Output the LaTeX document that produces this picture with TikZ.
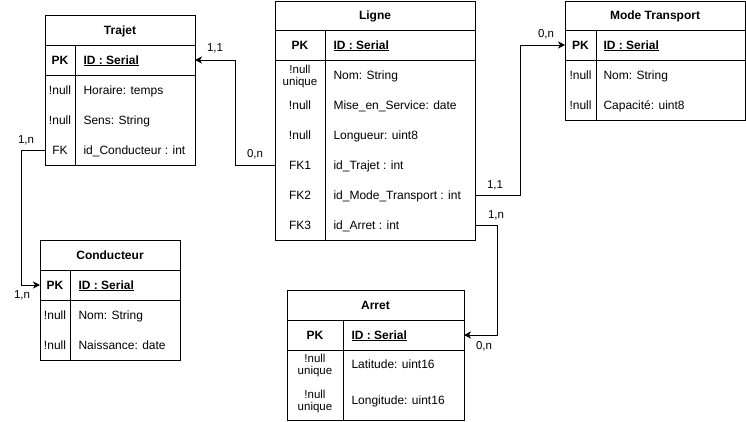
\documentclass[tikz,border=0pt]{standalone}
\usepackage{fontspec}
\setmainfont{Liberation Sans}
\usetikzlibrary{arrows.meta}
\begin{document}
\begin{tikzpicture}[x=1pt,y=-1pt,
  line width=1pt,
  tbl/.style={draw, line width=1pt, anchor=north west, inner sep=0pt, outer sep=0pt},
  rowbox/.style={anchor=north west, inner sep=0pt, outer sep=0pt},
  hdr/.style={font=\fontsize{12}{14}\selectfont\bfseries, inner sep=0pt, anchor=mid, yshift=-1.5pt},
  keyt/.style={font=\fontsize{11.5}{11.5}\selectfont, inner sep=0pt, align=center, yshift=-0.5pt},
  keys/.style={font=\fontsize{12}{14}\selectfont, inner sep=0pt, anchor=mid, yshift=-1.5pt},
  pkt/.style={font=\fontsize{12}{14}\selectfont\bfseries, inner sep=0pt, anchor=mid, yshift=-1.5pt},
  fld/.style={font=\fontsize{12}{14}\selectfont, inner sep=0pt, anchor=mid west, yshift=-1.5pt},
  pkf/.style={font=\fontsize{12}{14}\selectfont\bfseries, inner sep=0pt, anchor=mid west, yshift=-1.5pt},
  card/.style={font=\fontsize{11.5}{13}\selectfont, inner sep=0pt, anchor=mid},
  conn/.style={line width=1pt, -{Stealth[length=7pt,width=7pt,inset=2pt]}},
]
\useasboundingbox[fill=white] (0,0) rectangle (746,421);

% ---------- Trajet ----------
\node[tbl, minimum width=150pt, minimum height=150pt] (trajet) at (45,15) {};
\draw (45,45) -- (195,45);
\draw (45,75) -- (195,75);
\draw (75,45) -- (75,165);
\node[rowbox, minimum width=150pt, minimum height=30pt] (tPK) at (45,45) {};
\node[rowbox, minimum width=150pt, minimum height=30pt] (tFK) at (45,135) {};
\node[hdr] (tT) at (120,30) {Trajet};
\node[pkt] (tk1) at (60,60) {PK};
\node[pkf] (tf1) at (83,60) {\underline{ID : Serial}};
\node[keys] (tk2) at (60,90) {!null};
\node[fld] (tf2) at (83,90) {Horaire: temps};
\node[keys] (tk3) at (60,120) {!null};
\node[fld] (tf3) at (83,120) {Sens: String};
\node[keys] (tk4) at (60,150) {FK};
\node[fld] (tf4) at (83,150) {id\_Conducteur : int};

% ---------- Conducteur ----------
\node[tbl, minimum width=140pt, minimum height=120pt] (cond) at (40,240) {};
\draw (40,270) -- (180,270);
\draw (40,300) -- (180,300);
\draw (70,270) -- (70,360);
\node[rowbox, minimum width=140pt, minimum height=30pt] (cPK) at (40,270) {};
\node[hdr] (cT) at (110,255) {Conducteur};
\node[pkt] (ck1) at (55,285) {PK};
\node[pkf] (cf1) at (78,285) {\underline{ID : Serial}};
\node[keys] (ck2) at (55,315) {!null};
\node[fld] (cf2) at (78,315) {Nom: String};
\node[keys] (ck3) at (55,345) {!null};
\node[fld] (cf3) at (78,345) {Naissance: date};

% ---------- Ligne ----------
\node[tbl, minimum width=200pt, minimum height=239pt] (ligne) at (275,1) {};
\draw (275,30) -- (475,30);
\draw (275,60) -- (475,60);
\draw (325,30) -- (325,240);
\node[rowbox, minimum width=200pt, minimum height=30pt] (lFK1) at (275,150) {};
\node[rowbox, minimum width=200pt, minimum height=30pt] (lFK2) at (275,180) {};
\node[rowbox, minimum width=200pt, minimum height=30pt] (lFK3) at (275,210) {};
\node[hdr] (lT) at (375,15.5) {Ligne};
\node[pkt] (lk1) at (300,45) {PK};
\node[pkf] (lf1) at (333,45) {\underline{ID : Serial}};
\node[keyt] (lk2) at (300,76) {!null\\unique};
\node[fld] (lf2) at (333,75) {Nom: String};
\node[keys] (lk3) at (300,105) {!null};
\node[fld] (lf3) at (333,105) {Mise\_en\_Service: date};
\node[keys] (lk4) at (300,135) {!null};
\node[fld] (lf4) at (333,135) {Longueur: uint8};
\node[keys] (lk5) at (300,165) {FK1};
\node[fld] (lf5) at (333,165) {id\_Trajet : int};
\node[keys] (lk6) at (300,195) {FK2};
\node[fld] (lf6) at (333,195) {id\_Mode\_Transport : int};
\node[keys] (lk7) at (300,225) {FK3};
\node[fld] (lf7) at (333,225) {id\_Arret : int};

% ---------- Mode Transport ----------
\node[tbl, minimum width=180pt, minimum height=119pt] (mode) at (565,1) {};
\draw (565,30) -- (745,30);
\draw (565,60) -- (745,60);
\draw (596,30) -- (596,120);
\node[rowbox, minimum width=180pt, minimum height=30pt] (mPK) at (565,30) {};
\node[hdr] (mT) at (655,15.5) {Mode Transport};
\node[pkt] (mk1) at (580.5,45) {PK};
\node[pkf] (mf1) at (603,45) {\underline{ID : Serial}};
\node[keys] (mk2) at (580.5,75) {!null};
\node[fld] (mf2) at (603,75) {Nom: String};
\node[keys] (mk3) at (580.5,105) {!null};
\node[fld] (mf3) at (603,105) {Capacité: uint8};

% ---------- Arret ----------
\node[tbl, minimum width=177pt, minimum height=130pt] (arret) at (287,290) {};
\draw (287,320) -- (464,320);
\draw (287,350) -- (464,350);
\draw (343,320) -- (343,420);
\node[rowbox, minimum width=177pt, minimum height=30pt] (aPK) at (287,320) {};
\node[hdr] (aT) at (375.5,305) {Arret};
\node[pkt] (ak1) at (315,335) {PK};
\node[pkf] (af1) at (351,335) {\underline{ID : Serial}};
\node[keyt] (ak2) at (315,365) {!null\\unique};
\node[fld] (af2) at (351,364) {Latitude: uint16};
\node[keyt] (ak3) at (315,401) {!null\\unique};
\node[fld] (af3) at (351,400) {Longitude: uint16};

% ---------- Connectors ----------
\draw[conn] (ligne.west |- lFK1) -- ++(-40,0) |- (trajet.east |- tPK);
\draw[conn] (trajet.west |- tFK) -- ++(-24,0) |- (cond.west |- cPK);
\draw[conn] (ligne.east |- lFK2) -- ++(45,0) |- (mode.west |- mPK);
\draw[conn] (ligne.east |- lFK3) -- ++(22,0) |- (arret.east |- aPK);

% ---------- Cardinalities ----------
\node[card] (c1) at (215,49) {1,1};
\node[card] (c2) at (255,155) {0,n};
\node[card] (c3) at (26,141) {1,n};
\node[card] (c4) at (22,296) {1,n};
\node[card] (c5) at (546,35) {0,n};
\node[card] (c6) at (495,186) {1,1};
\node[card] (c7) at (496,216) {1,n};
\node[card] (c8) at (484,347) {0,n};
\end{tikzpicture}
\end{document}
